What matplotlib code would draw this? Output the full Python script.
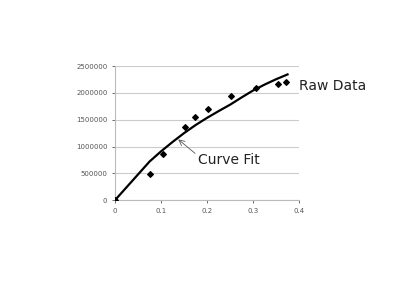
import matplotlib
matplotlib.use("Agg")
import matplotlib.pyplot as plt

# raw measurements
raw_x = [0, 0.076, 0.104, 0.151, 0.174, 0.201, 0.251, 0.307, 0.354, 0.372]
raw_y = [0, 485000, 858000, 1356000, 1543000, 1698000, 1940000, 2095000, 2164000, 2196000]

# fitted curve
fit_x = [0, 0.025, 0.05, 0.075, 0.1, 0.125, 0.15, 0.175, 0.2, 0.225,
         0.25, 0.275, 0.3, 0.325, 0.35, 0.375]
fit_y = [0, 240000, 480000, 720000, 910000, 1085000, 1250000, 1400000, 1535000, 1660000,
         1780000, 1915000, 2045000, 2155000, 2255000, 2345000]

x_ticks = [0, 0.1, 0.2, 0.3, 0.4]
x_labels = ["0", "0.1", "0.2", "0.3", "0.4"]
y_ticks = [0, 500000, 1000000, 1500000, 2000000, 2500000]

fig = plt.figure(figsize=(4.2, 2.9), dpi=100)
ax = fig.add_axes([0.274, 0.310, 0.438, 0.462])

ax.plot(fit_x, fit_y, color="black", lw=1.6, zorder=3, solid_joinstyle="round")
ax.scatter(raw_x, raw_y, marker="D", s=8, color="black", zorder=4)

ax.set_xlim(0, 0.4)
ax.set_ylim(0, 2500000)
ax.set_xticks(x_ticks)
ax.set_xticklabels(x_labels)
ax.set_yticks(y_ticks)
ax.set_yticklabels([str(v) for v in y_ticks])
ax.tick_params(labelsize=5, colors="#555555", length=2, width=0.6)

ax.grid(axis="y", color="#cccccc", lw=0.8)
for side in ["top", "right"]:
    ax.spines[side].set_visible(False)
ax.spines["left"].set_color("#bbbbbb")
ax.spines["bottom"].set_color("#bbbbbb")

ax.text(1.0, 0.85, "Raw Data", transform=ax.transAxes, fontsize=10,
        ha="left", va="center", color="#222222")
ax.annotate("Curve Fit", xy=(0.135, 1150000), xytext=(0.18, 750000),
            fontsize=10, color="#222222", ha="left", va="center",
            arrowprops=dict(arrowstyle="->", color="#555555", lw=0.6,
                            shrinkA=0, shrinkB=1, relpos=(0, 0.8)))

fig.savefig("out.png", dpi=100)
